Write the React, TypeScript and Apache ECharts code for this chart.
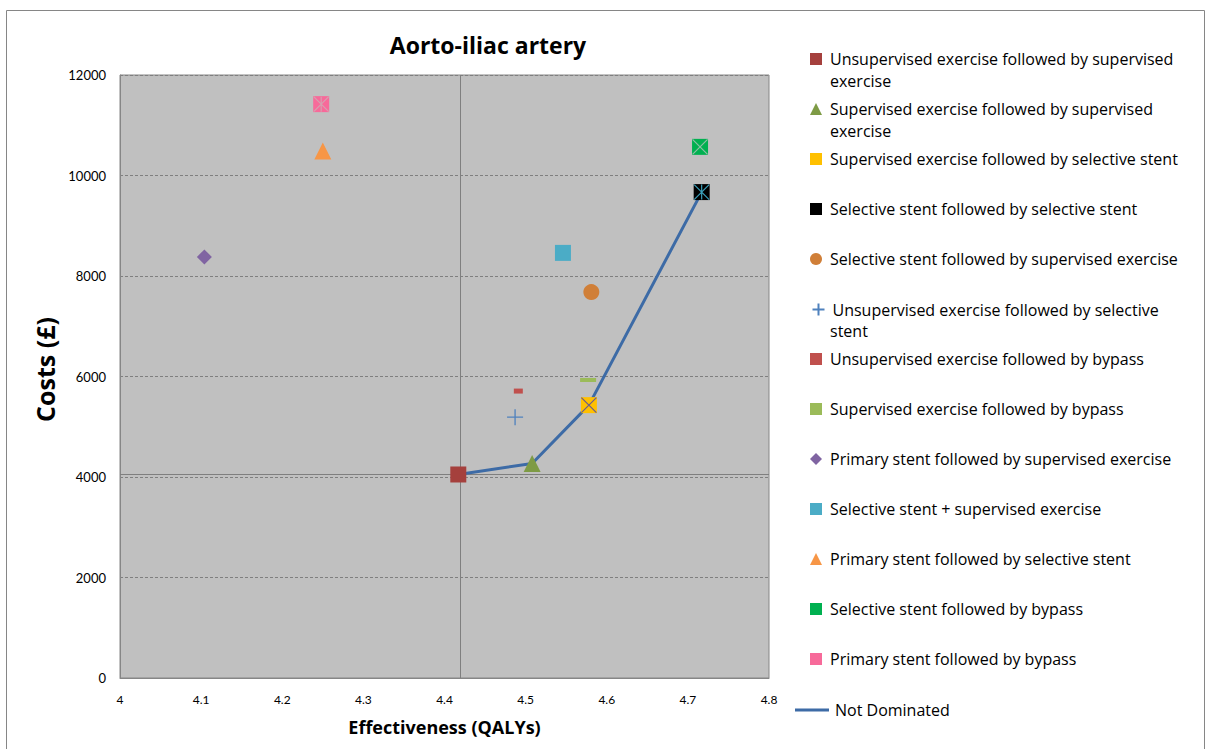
import React, { useEffect, useRef } from "react";
import * as echarts from "echarts";

const strategyNames = [
  "Unsupervised exercise followed by supervised exercise",
  "Supervised exercise followed by supervised exercise",
  "Supervised exercise followed by selective stent",
  "Selective stent followed by selective stent",
  "Selective stent followed by supervised exercise",
  "Unsupervised exercise followed by selective stent",
  "Unsupervised exercise followed by bypass",
  "Supervised exercise followed by bypass",
  "Primary stent followed by supervised exercise",
  "Selective stent + supervised exercise",
  "Primary stent followed by selective stent",
  "Selective stent followed by bypass",
  "Primary stent followed by bypass",
];
// legend first line / continuation line
const legendFirstLines = [
  "Unsupervised exercise followed by supervised",
  "Supervised exercise followed by supervised",
  "Supervised exercise followed by selective stent",
  "Selective stent followed by selective stent",
  "Selective stent followed by supervised exercise",
  "Unsupervised exercise followed by selective",
  "Unsupervised exercise followed by bypass",
  "Supervised exercise followed by bypass",
  "Primary stent followed by supervised exercise",
  "Selective stent + supervised exercise",
  "Primary stent followed by selective stent",
  "Selective stent followed by bypass",
  "Primary stent followed by bypass",
];
const legendSecondLines = ["exercise", "exercise", "", "", "", "stent", "", "", "", "", "", "", ""];

const effectiveness = [4.417, 4.508, 4.578, 4.717, 4.581, 4.487, 4.491, 4.577, 4.104, 4.546, 4.25, 4.715, 4.248];
const costs = [4050, 4270, 5430, 9670, 7680, 5190, 5710, 5930, 8380, 8460, 10490, 10570, 11420];

const frontierName = "Not Dominated";
const frontierX = [4.417, 4.508, 4.578, 4.717];
const frontierY = [4050, 4270, 5430, 9670];

const xTicks = [4, 4.1, 4.2, 4.3, 4.4, 4.5, 4.6, 4.7, 4.8];
const yTicks = [0, 2000, 4000, 6000, 8000, 10000, 12000];

// styles
const colors = ["#A5403D", "#7E9B45", "#FFC000", "#000000", "#D07F38", "#4F81BD", "#C0504D", "#9BBB59", "#8064A2", "#4BACC6", "#F79646", "#00B050", "#F76A9A"];
const crossColors: (string | null)[] = [null, null, "#6B5B8E", "#3A9EB8", null, null, null, null, null, null, null, "#8FBFA5", "#D6A0B0"];
const crossWithVertical = [false, false, false, true, false, false, false, false, false, false, false, false, true];
const symbols: any[] = [
  "rect", "triangle", "rect", "rect", "circle",
  "path://M5,0L5,10M0,5L10,5",
  "rect", "rect", "diamond", "rect", "triangle", "rect", "rect",
];
const symbolSizes: any[] = [16, 17, 16, 16, 16, 16, [9, 5], [16, 4], 15, 16, 17, 16, 16];

const FONT = "'Open Sans', Lato, sans-serif";
const TICKFONT = "Lato, 'Open Sans', sans-serif";

export default function App() {
  const ref = useRef<HTMLDivElement>(null);
  useEffect(() => {
    document.body.style.margin = "0";
    const chart = echarts.init(ref.current!, undefined, { renderer: "svg" });

    const series: any[] = [];
    strategyNames.forEach((name, i) => {
      const isPlus = i === 5;
      series.push({
        type: "scatter",
        name,
        data: [[effectiveness[i], costs[i]]],
        symbol: symbols[i],
        symbolSize: symbolSizes[i],
        itemStyle: isPlus
          ? { color: "none", borderColor: colors[i], borderWidth: 1.3, opacity: 1 }
          : { color: colors[i], opacity: 1 },
        z: 3,
        ...(i === 0
          ? {
              markLine: {
                silent: true,
                symbol: "none",
                label: { show: false },
                lineStyle: { color: "#7F7F7F", type: "solid", width: 1 },
                data: [{ xAxis: effectiveness[0] }, { yAxis: costs[0] }],
                z: 1,
              },
            }
          : {}),
      });
      if (crossColors[i]) {
        series.push({
          type: "scatter",
          name: name + " ",
          data: [[effectiveness[i], costs[i]]],
          symbol: crossWithVertical[i] ? "path://M0,0L10,10M10,0L0,10M5,0L5,10" : "path://M0,0L10,10M10,0L0,10",
          symbolSize: 15,
          itemStyle: { color: "none", borderColor: crossColors[i], borderWidth: 1.2, opacity: 1 },
          z: 4,
          silent: true,
        });
      }
    });
    series.push({
      type: "line",
      name: frontierName,
      data: frontierX.map((x, k) => [x, frontierY[k]]),
      symbol: "none",
      lineStyle: { color: "#3D6BA6", width: 3 },
      itemStyle: { color: "#3D6BA6" },
      z: 2,
    });

    const legendTops = [59, 109, 159, 209, 259, 309, 359, 409, 459, 509, 559, 609, 659];
    const legends: any[] = strategyNames.map((name, i) => ({
      data: [name],
      left: 805,
      top: legendTops[i] - 13,
      itemWidth: 12,
      itemHeight: 12,
      orient: "vertical",
      selectedMode: false,
      formatter: () => legendFirstLines[i],
      textStyle: { fontFamily: FONT, fontSize: 16, color: "#000", padding: [0, 0, 0, 3] },
    }));
    legends.push({
      data: [{ name: frontierName, icon: "rect" }],
      left: 790,
      top: 697,
      itemWidth: 34,
      itemHeight: 3,
      selectedMode: false,
      textStyle: { fontFamily: FONT, fontSize: 16, color: "#000", padding: [0, 0, 0, 1] },
    });

    const graphics: any[] = [
      {
        type: "rect",
        shape: { x: 6.5, y: 10.5, width: 1198, height: 800 },
        style: { fill: "none", stroke: "#868686", lineWidth: 1 },
        silent: true,
      },
    ];
    legendSecondLines.forEach((t, i) => {
      if (t) {
        graphics.push({
          type: "text",
          left: 830,
          top: legendTops[i] + 14,
          style: { text: t, fontFamily: FONT, fontSize: 16, fill: "#000" },
        });
      }
    });

    chart.setOption({
      animation: false,
      backgroundColor: "#ffffff",
      title: {
        text: "Aorto-iliac artery",
        left: 483,
        top: 28,
        textAlign: "center",
        textStyle: { fontFamily: FONT, fontSize: 23, fontWeight: "bold", color: "#000" },
      },
      grid: {
        left: 120,
        right: 442,
        top: 75,
        bottom: 71,
        show: true,
        backgroundColor: "#C0C0C0",
        borderColor: "#868686",
        borderWidth: 1,
      },
      xAxis: {
        type: "value",
        min: xTicks[0],
        max: xTicks[xTicks.length - 1],
        interval: 0.1,
        name: "Effectiveness (QALYs)",
        nameLocation: "middle",
        nameGap: 40,
        nameTextStyle: { fontFamily: FONT, fontSize: 18, fontWeight: "bold", color: "#000" },
        axisLine: { show: true, onZero: false, lineStyle: { color: "#868686" } },
        axisTick: { show: false },
        splitLine: { show: false },
        axisLabel: {
          fontFamily: TICKFONT,
          fontSize: 12,
          color: "#000",
          margin: 15,
          formatter: (v: number) => {
            const t = xTicks.find((x) => Math.abs(x - v) < 1e-6);
            return t === undefined ? "" : String(t);
          },
        },
      },
      yAxis: {
        type: "value",
        min: yTicks[0],
        max: yTicks[yTicks.length - 1],
        interval: 2000,
        name: "Costs (£)",
        nameLocation: "middle",
        nameGap: 60,
        nameTextStyle: { fontFamily: FONT, fontSize: 25, fontWeight: "bold", color: "#000", padding: [0, 0, 0, 14] },
        axisLine: { show: true, onZero: false, lineStyle: { color: "#868686" } },
        axisTick: { show: false },
        splitLine: { show: true, lineStyle: { color: "#7F7F7F", type: [3, 2], width: 1 } },
        axisLabel: {
          fontFamily: TICKFONT,
          fontSize: 13,
          color: "#000",
          margin: 14,
          formatter: (v: number) => String(v),
        },
      },
      legend: legends,
      graphic: graphics,
      series,
    });
    return () => chart.dispose();
  }, []);
  return <div ref={ref} style={{ width: 1211, height: 749 }} />;
}
